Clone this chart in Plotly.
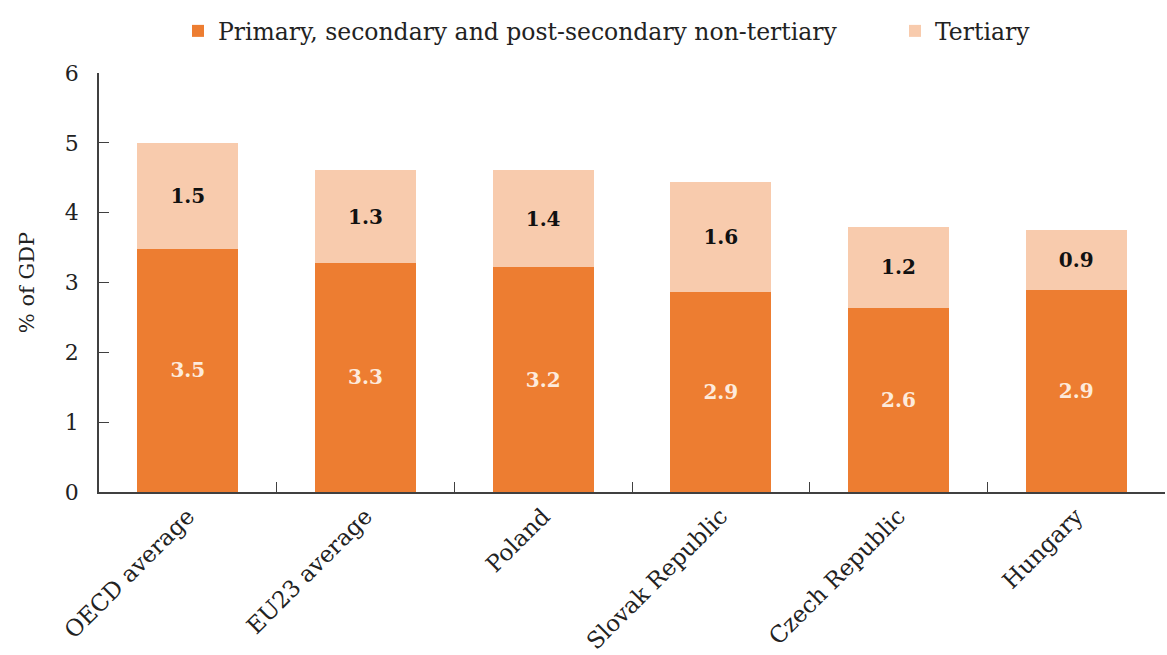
import plotly.graph_objects as go

categories = ["OECD average", "EU23 average", "Poland", "Slovak Republic", "Czech Republic", "Hungary"]
primary = [3.48, 3.28, 3.22, 2.87, 2.64, 2.89]
tertiary = [1.52, 1.33, 1.39, 1.57, 1.16, 0.86]
series_names = ["Primary, secondary and post-secondary non-tertiary", "Tertiary"]
ytick_vals = [0, 1, 2, 3, 4, 5, 6]

FONT = "DejaVu Serif"
fig = go.Figure()
fig.add_trace(go.Bar(
    x=categories, y=primary, name=series_names[0], showlegend=True,
    marker=dict(color="#ED7D31", line=dict(width=0)),
    texttemplate="<b>%{y:.1f}</b>", textposition="inside", insidetextanchor="middle",
    textfont=dict(color="#FDEBDC", size=20, family=FONT), textangle=0,
))
fig.add_trace(go.Bar(
    x=categories, y=tertiary, name=series_names[1], legend="legend2", showlegend=True,
    marker=dict(color="#F8CBAD", line=dict(width=0)),
    texttemplate="<b>%{y:.1f}</b>", textposition="inside", insidetextanchor="middle",
    textfont=dict(color="#111111", size=20, family=FONT), textangle=0,
))

fig.update_layout(
    barmode="stack", bargap=0.43,
    width=1167, height=655,
    margin=dict(l=99, r=2, t=73, b=163),
    paper_bgcolor="white", plot_bgcolor="white",
    font=dict(family=FONT, size=21, color="#222222"),
    showlegend=True,
    legend=dict(x=0.0741, xanchor="left", y=1.10, yanchor="middle", orientation="h",
                font=dict(size=23.5), itemclick=False, visible=True),
    legend2=dict(x=0.7467, xanchor="left", y=1.10, yanchor="middle", orientation="h",
                 font=dict(size=23.5), itemclick=False, visible=True),
    uniformtext=dict(mode=False),
)
fig.update_yaxes(range=[0, 6], tickvals=ytick_vals, ticks="inside", ticklen=10,
                 tickcolor="#404040", showline=True, linecolor="#404040", linewidth=1.5,
                 showgrid=False, zeroline=False, ticklabelstandoff=14,
                 title=dict(text="% of GDP", standoff=24, font=dict(size=21)),
                 tickfont=dict(size=22))
fig.update_xaxes(showline=True, linecolor="#404040", linewidth=1.5, ticks="inside",
                 tickson="boundaries", ticklen=10, tickcolor="#404040",
                 tickangle=-45, showgrid=False, tickfont=dict(size=23))

fig.write_html("out.html")
